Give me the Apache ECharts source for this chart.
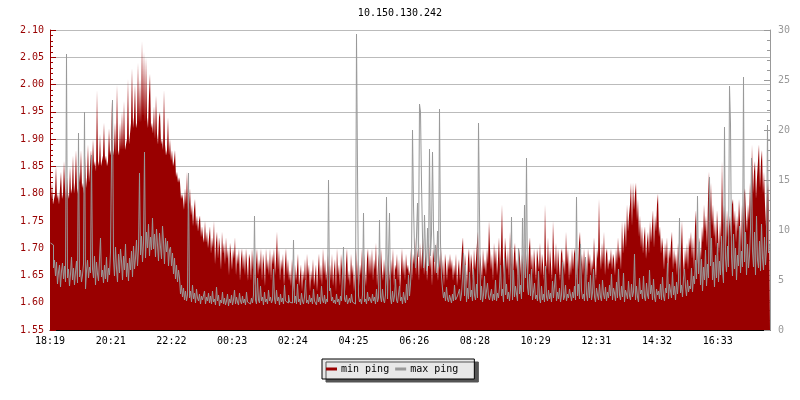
<!DOCTYPE html>
<html>
<head>
<meta charset="utf-8">
<script src="https://cdn.jsdelivr.net/npm/echarts@6/dist/echarts.min.js"></script>
<style>html,body{margin:0;padding:0;background:#fff}#c{width:800px;height:400px}</style>
</head>
<body>
<div id="c"></div>
<script>
const titleText = '10.150.130.242';
const seriesNames = ['min ping', 'max ping'];
const timeLabels = ['18:19','20:21','22:22','00:23','02:24','04:25','06:26','08:28','10:29','12:31','14:32','16:33'];
const totalMinutes = 1440;
const tickStepMinutes = 121.4;

// min ping (ms, left axis), one value per 2 minutes, 18:19 -> 18:19 next day
const minPing = [
1.78,1.79,1.82,1.78,1.79,1.80,1.85,1.79,1.80,1.78,1.81,1.84,1.79,1.80,1.86,1.81,1.79,1.83,1.80,1.79,
1.85,1.80,1.81,1.87,1.80,1.82,1.88,1.81,1.80,1.84,1.82,1.88,1.81,1.82,1.80,1.87,1.81,1.83,1.89,1.82,
1.85,1.88,1.84,1.90,1.85,1.86,1.84,1.99,1.86,1.85,1.91,1.85,1.86,1.87,1.93,1.86,1.87,1.85,1.86,1.92,
1.87,1.88,1.97,1.87,1.88,1.93,1.87,2.00,1.88,1.87,1.93,1.88,1.95,1.88,1.97,1.88,1.89,1.90,2.01,1.89,
1.91,1.93,2.03,1.92,1.94,2.00,1.92,1.93,2.04,1.93,2.01,1.93,2.08,1.94,2.06,1.93,2.05,1.94,1.92,1.98,
2.02,1.92,1.93,1.91,1.96,1.90,1.98,1.91,1.89,1.94,1.95,1.89,1.90,1.88,1.99,1.89,1.87,1.88,1.94,1.87,
1.90,1.86,1.88,1.85,1.86,1.88,1.83,1.84,1.82,1.83,1.82,1.79,1.80,1.79,1.77,1.81,1.78,1.84,1.77,1.78,
1.81,1.76,1.78,1.74,1.77,1.79,1.74,1.76,1.73,1.75,1.76,1.72,1.74,1.72,1.71,1.75,1.71,1.73,1.70,1.72,
1.74,1.69,1.72,1.70,1.75,1.67,1.71,1.73,1.68,1.72,1.70,1.66,1.73,1.69,1.71,1.67,1.72,1.68,1.70,1.65,
1.71,1.69,1.66,1.70,1.68,1.72,1.65,1.69,1.67,1.70,1.64,1.68,1.70,1.66,1.69,1.65,1.70,1.67,1.64,1.69,
1.68,1.64,1.70,1.66,1.69,1.63,1.67,1.70,1.65,1.68,1.66,1.70,1.64,1.69,1.67,1.63,1.70,1.66,1.68,1.65,
1.70,1.64,1.69,1.67,1.70,1.65,1.68,1.73,1.66,1.70,1.64,1.68,1.66,1.69,1.63,1.67,1.70,1.65,1.68,1.64,
1.66,1.63,1.68,1.65,1.62,1.67,1.64,1.66,1.69,1.63,1.65,1.67,1.62,1.66,1.64,1.68,1.63,1.69,1.65,1.67,
1.62,1.66,1.64,1.68,1.63,1.65,1.67,1.62,1.66,1.69,1.64,1.67,1.63,1.70,1.65,1.68,1.64,1.66,1.69,1.65,
1.67,1.64,1.69,1.63,1.66,1.68,1.62,1.70,1.65,1.67,1.63,1.69,1.66,1.64,1.68,1.62,1.67,1.70,1.64,1.66,
1.63,1.69,1.65,1.67,1.62,1.66,1.70,1.64,1.68,1.63,1.67,1.65,1.70,1.64,1.69,1.66,1.63,1.68,1.70,1.65,
1.69,1.65,1.70,1.64,1.68,1.66,1.71,1.63,1.67,1.69,1.65,1.70,1.66,1.64,1.68,1.65,1.67,1.63,1.69,1.66,
1.64,1.68,1.65,1.70,1.63,1.67,1.66,1.69,1.64,1.68,1.62,1.66,1.70,1.65,1.68,1.64,1.69,1.66,1.67,1.65,
1.66,1.70,1.64,1.69,1.67,1.72,1.65,1.70,1.68,1.64,1.71,1.66,1.69,1.72,1.65,1.68,1.70,1.64,1.67,1.71,
1.66,1.69,1.63,1.70,1.68,1.65,1.71,1.67,1.64,1.69,1.66,1.70,1.65,1.68,1.63,1.69,1.67,1.64,1.68,1.66,
1.69,1.66,1.68,1.64,1.67,1.65,1.69,1.63,1.66,1.68,1.64,1.67,1.70,1.72,1.65,1.69,1.66,1.63,1.68,1.70,
1.65,1.69,1.67,1.64,1.70,1.66,1.68,1.71,1.73,1.65,1.69,1.67,1.64,1.70,1.66,1.68,1.65,1.70,1.67,1.75,
1.70,1.66,1.69,1.64,1.71,1.67,1.70,1.65,1.68,1.72,1.66,1.70,1.78,1.68,1.65,1.72,1.69,1.66,1.70,1.64,
1.73,1.67,1.70,1.65,1.69,1.71,1.66,1.68,1.64,1.70,1.68,1.65,1.69,1.67,1.64,1.71,1.66,1.69,1.65,1.70,
1.72,1.66,1.69,1.65,1.70,1.67,1.64,1.70,1.68,1.66,1.71,1.65,1.69,1.67,1.64,1.78,1.68,1.66,1.72,1.65,
1.70,1.67,1.64,1.75,1.69,1.66,1.71,1.65,1.70,1.67,1.64,1.69,1.70,1.66,1.68,1.65,1.73,1.67,1.70,1.64,
1.68,1.65,1.70,1.66,1.69,1.70,1.64,1.68,1.66,1.71,1.73,1.67,1.69,1.65,1.70,1.66,1.68,1.64,1.70,1.67,
1.69,1.65,1.68,1.66,1.72,1.67,1.64,1.70,1.68,1.79,1.69,1.66,1.71,1.67,1.73,1.65,1.69,1.70,1.66,1.68,
1.67,1.70,1.66,1.69,1.68,1.65,1.70,1.67,1.72,1.68,1.70,1.66,1.75,1.69,1.72,1.75,1.70,1.78,1.73,1.76,
1.78,1.82,1.74,1.82,1.77,1.80,1.82,1.75,1.79,1.72,1.76,1.70,1.74,1.69,1.72,1.74,1.68,1.71,1.73,1.69,
1.75,1.71,1.74,1.77,1.70,1.76,1.73,1.78,1.80,1.72,1.74,1.69,1.72,1.70,1.66,1.71,1.68,1.72,1.65,1.70,
1.68,1.71,1.73,1.66,1.70,1.67,1.69,1.65,1.71,1.68,1.66,1.70,1.75,1.68,1.65,1.70,1.67,1.71,1.66,1.72,
1.70,1.73,1.68,1.72,1.66,1.74,1.77,1.70,1.67,1.72,1.70,1.68,1.74,1.71,1.78,1.73,1.76,1.70,1.79,1.84,
1.76,1.82,1.74,1.78,1.72,1.75,1.70,1.77,1.73,1.69,1.75,1.71,1.86,1.74,1.78,1.75,1.70,1.77,1.72,1.74,
1.76,1.72,1.78,1.79,1.74,1.77,1.71,1.76,1.73,1.79,1.75,1.70,1.78,1.74,1.80,1.81,1.76,1.73,1.78,1.75,
1.82,1.77,1.89,1.80,1.84,1.86,1.79,1.83,1.83,1.89,1.81,1.86,1.88,1.80,1.84,1.78,1.74,1.80,1.82,1.77
];

// max ping (ms, right axis), one value per 2 minutes
const maxPing = [
8.7,8.6,8.5,6.2,7.0,5.4,6.8,4.6,5.8,6.5,4.3,5.9,6.7,5.1,6.4,4.8,27.6,5.2,6.1,4.4,
5.6,7.3,5.0,6.2,4.5,5.8,6.9,4.7,19.7,5.3,6.0,4.8,5.5,6.6,21.8,4.1,5.9,7.0,5.2,6.3,
5.7,17.5,6.1,5.2,7.4,4.5,6.8,5.6,4.9,7.1,9.2,5.3,6.0,4.7,6.5,5.1,7.3,4.8,6.2,5.5,
7.8,17.0,23.0,7.1,5.4,8.3,6.2,4.8,7.6,5.7,8.1,6.9,5.0,7.4,6.0,8.6,5.3,6.7,4.9,7.2,
6.0,7.9,5.3,8.4,6.1,7.2,9.0,6.4,8.1,15.7,7.5,9.4,6.8,8.7,17.8,7.2,9.8,8.2,10.6,7.4,
9.3,8.0,11.2,8.1,9.6,7.3,10.1,8.5,6.9,9.7,8.3,7.1,10.4,8.8,6.6,9.2,7.8,8.9,6.4,8.0,
8.3,6.4,7.7,5.6,7.2,5.1,6.5,4.8,6.0,5.2,3.6,4.5,3.3,4.2,3.0,3.9,2.9,3.5,15.7,3.2,
3.9,2.8,4.5,3.1,3.7,2.7,4.1,3.2,2.9,3.6,2.6,3.4,3.0,2.8,3.9,2.6,3.3,2.9,3.7,2.7,
3.4,2.6,3.9,2.8,3.1,2.5,4.3,2.9,3.5,2.4,3.0,2.7,3.8,2.6,3.2,2.5,2.9,3.6,2.4,3.1,
2.7,3.5,2.5,3.0,4.0,2.6,3.3,2.8,2.5,3.7,2.9,2.6,3.4,2.7,3.1,2.5,3.8,2.8,3.0,2.6,
2.8,3.2,2.7,3.5,11.4,3.0,2.6,5.2,3.0,2.7,4.4,2.9,3.3,2.5,3.8,2.8,3.1,2.6,4.0,2.9,
3.3,2.7,3.0,6.1,3.1,2.6,4.0,2.9,3.3,2.5,3.6,2.8,3.2,2.6,4.5,2.9,3.1,2.7,3.5,2.8,
3.0,2.7,3.4,9.0,2.7,3.4,2.6,4.6,2.8,3.1,2.5,3.7,2.9,2.6,3.3,5.0,2.7,3.0,2.6,3.5,
2.8,3.2,2.6,4.1,2.9,3.0,2.5,3.6,2.8,3.3,2.6,4.4,3.0,2.7,3.5,2.6,3.1,2.8,15.0,3.9,
4.2,2.9,3.3,2.7,3.0,2.6,3.6,2.8,3.1,2.5,3.4,2.9,2.7,8.3,3.1,2.8,3.5,2.6,2.9,3.2,
2.7,3.6,2.8,3.0,2.6,3.3,29.6,16.0,3.4,2.8,3.1,2.6,3.5,11.7,2.8,3.1,2.6,3.8,2.9,3.3,
3.0,2.7,3.6,2.9,3.3,2.6,4.1,2.8,3.2,11.0,3.3,2.8,4.1,3.0,2.7,3.5,13.3,3.1,2.9,11.7,
3.2,2.6,3.9,2.8,3.4,5.1,3.0,2.7,3.6,4.4,2.9,3.3,2.6,3.8,3.1,2.7,4.6,3.0,5.5,3.4,
4.6,6.8,20.0,12.5,8.1,6.2,9.4,12.7,7.3,22.6,21.8,14.7,9.3,6.2,11.5,7.8,5.9,10.2,6.4,18.1,
7.4,9.6,17.8,10.2,6.8,8.5,5.7,9.9,6.3,22.1,8.7,5.3,4.1,3.2,3.8,2.9,4.3,3.1,2.8,3.5,
3.1,2.7,3.6,2.9,4.5,3.0,2.8,3.4,3.2,4.1,2.9,3.6,5.2,7.7,3.4,6.5,2.8,4.2,3.1,5.8,
3.3,4.0,2.9,6.1,3.5,3.0,4.6,3.2,20.7,11.7,3.0,4.4,2.8,3.5,5.4,3.1,2.9,4.7,3.3,3.0,
3.2,4.1,2.9,3.6,3.0,5.0,2.9,3.7,3.2,4.3,6.5,3.4,4.1,2.8,7.2,3.5,4.6,3.1,3.8,2.9,
4.0,11.3,3.0,6.0,3.3,4.4,3.6,2.9,8.2,3.6,4.5,3.1,11.2,3.8,12.5,5.2,17.2,4.3,3.5,5.6,
3.4,6.1,3.0,2.8,4.7,3.1,3.5,2.9,5.9,3.2,2.7,4.4,3.0,3.6,2.8,6.4,3.3,2.9,4.0,3.1,
3.7,2.8,4.9,3.2,3.0,5.6,2.9,3.8,3.1,4.2,2.8,3.5,6.8,3.0,3.3,4.5,2.9,3.6,3.2,4.1,
3.5,2.9,3.8,3.2,4.4,3.0,13.3,3.4,4.6,3.1,8.6,4.0,3.1,3.6,2.9,7.3,3.6,2.9,4.8,3.2,
5.5,3.0,3.7,6.1,3.3,2.8,4.2,3.5,3.0,4.6,3.3,2.9,5.0,3.6,3.1,4.3,2.9,3.8,3.2,4.5,
3.4,5.6,3.0,4.2,3.7,2.9,4.8,3.2,6.1,3.5,3.0,4.4,3.3,5.7,2.8,4.0,3.6,3.1,4.9,3.4,
3.0,4.6,3.3,3.8,7.6,3.0,4.4,3.3,2.8,5.2,3.6,4.0,3.1,5.4,3.3,2.9,4.7,3.5,3.1,6.0,
3.6,4.5,3.0,5.1,3.3,2.8,4.1,3.5,3.9,3.1,4.6,3.0,5.3,3.4,2.9,4.2,3.7,6.7,3.1,4.6,
3.9,3.2,5.8,3.5,4.4,3.0,4.8,3.6,5.0,11.2,3.7,4.5,3.3,5.2,6.1,4.3,3.4,5.0,3.8,4.4,
4.1,6.2,3.8,5.4,4.6,7.0,5.1,13.4,5.6,8.8,4.5,7.1,3.9,6.3,5.0,8.0,4.4,6.6,5.2,15.3,
6.4,9.2,5.0,6.8,4.3,7.5,5.2,8.7,4.8,6.9,5.5,9.4,6.0,4.7,20.3,7.2,5.8,8.4,6.3,24.4,
20.6,7.3,5.4,9.6,6.1,8.2,5.0,7.5,6.4,10.4,5.7,7.9,6.3,25.3,6.8,9.8,5.5,8.6,6.2,7.4,
10.1,17.2,7.9,6.3,9.8,5.5,11.4,7.0,6.2,8.9,5.9,10.6,7.2,6.0,9.3,6.5,8.1,20.5,7.7,8.6
];

// Staircase [time, value] pairs: each sample holds its value for one full step.
// offset shifts the staircase by a fraction of one step.
function stairs(vals, offset) {
  const step = totalMinutes / vals.length;
  const out = [];
  vals.forEach((v, i) => {
    out.push([(i + offset) * step, v]);
    out.push([(i + 1 + offset) * step, v]);
  });
  return out;
}

const MONO = '"DejaVu Sans Mono", "Liberation Mono", monospace';
const RED = '#990000';
const GREY = '#999999';

const chart = echarts.init(document.getElementById('c'), null, {renderer: 'canvas'});
chart.setOption({
  animation: false,
  backgroundColor: '#ffffff',
  title: {
    text: titleText, left: 'center', top: 3,
    textStyle: {fontFamily: MONO, fontSize: 10, fontWeight: 'normal', color: '#000'}
  },
  grid: {left: 50, right: 30, top: 30, bottom: 70, containLabel: false},
  legend: {
    data: seriesNames,
    left: 322, top: 359,
    icon: 'rect', itemWidth: 11, itemHeight: 3, itemGap: 6,
    padding: [5, 16, 5, 4],
    backgroundColor: '#e8e8e8', borderColor: '#000', borderWidth: 1,
    shadowColor: '#555555', shadowOffsetX: 4, shadowOffsetY: 3, shadowBlur: 0.01,
    textStyle: {fontFamily: MONO, fontSize: 10, color: '#000', padding: [0, 0, 0, -1]}
  },
  xAxis: {
    type: 'value', min: 0, max: totalMinutes, interval: tickStepMinutes,
    axisLine: {show: true, lineStyle: {color: '#000', width: 1}},
    axisTick: {show: true, inside: true, length: 6, lineStyle: {color: '#000'}},
    splitLine: {show: false},
    axisLabel: {
      fontFamily: MONO, fontSize: 10, color: '#000', margin: 6, showMaxLabel: false,
      formatter: function (v) {
        const k = Math.round(v / tickStepMinutes);
        return (Math.abs(v - k * tickStepMinutes) < 0.01 && k < timeLabels.length) ? timeLabels[k] : '';
      }
    }
  },
  yAxis: [{
    type: 'value', min: 1.55, max: 2.10, interval: 0.05, position: 'left',
    axisLine: {show: true, lineStyle: {color: RED, width: 1}},
    axisTick: {show: true, inside: true, length: 6, lineStyle: {color: RED}},
    minorTick: {show: true, splitNumber: 5, length: 3, lineStyle: {color: RED}},
    splitLine: {show: true, lineStyle: {color: '#bbbbbb', width: 1}},
    axisLabel: {fontFamily: MONO, fontSize: 10, color: RED, margin: 6,
      formatter: v => v.toFixed(2)}
  }, {
    type: 'value', min: 0, max: 30, interval: 5, position: 'right',
    axisLine: {show: true, lineStyle: {color: GREY, width: 1}},
    axisTick: {show: true, inside: true, length: 6, lineStyle: {color: GREY}},
    minorTick: {show: true, splitNumber: 5, length: 3, lineStyle: {color: GREY}},
    splitLine: {show: false},
    axisLabel: {fontFamily: MONO, fontSize: 10, color: GREY, margin: 8}
  }],
  series: [{
    name: seriesNames[0], type: 'line', yAxisIndex: 0,
    data: stairs(minPing, 0), showSymbol: false, symbol: 'none', clip: true,
    color: RED, itemStyle: {color: RED},
    lineStyle: {color: RED, width: 0},
    areaStyle: {color: RED, opacity: 1, origin: 'start'},
    z: 2
  }, {
    name: seriesNames[1], type: 'line', yAxisIndex: 1,
    data: stairs(maxPing, 0.5), showSymbol: false, symbol: 'none', clip: true,
    color: GREY, itemStyle: {color: GREY},
    lineStyle: {color: GREY, width: 1},
    z: 3
  }]
});
</script>
</body>
</html>
